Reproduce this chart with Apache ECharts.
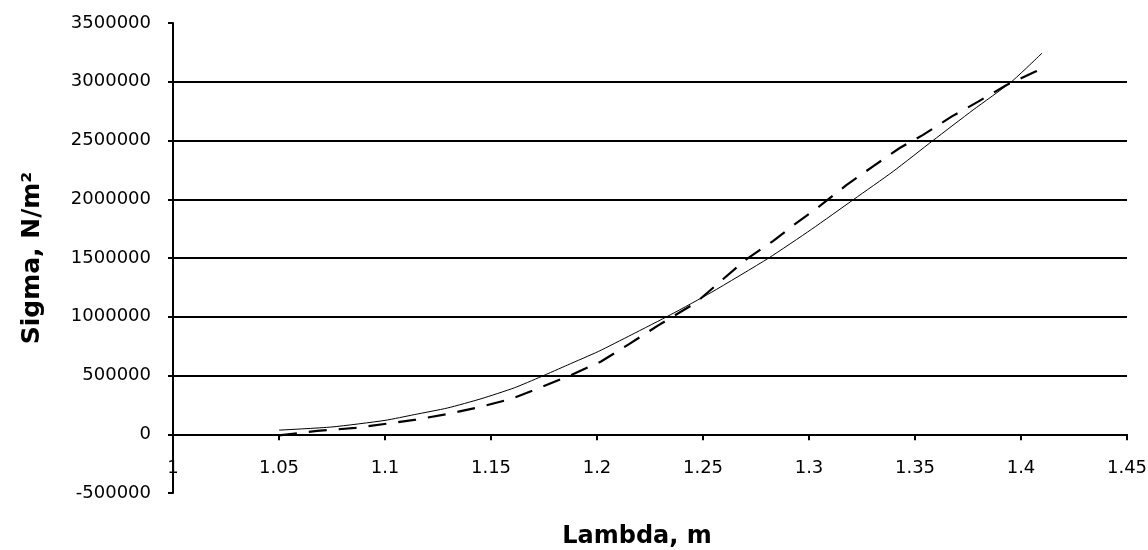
<!DOCTYPE html>
<html>
<head>
<meta charset="utf-8">
<script src="https://cdn.jsdelivr.net/npm/echarts@6/dist/echarts.min.js"></script>
<style>
html,body{margin:0;padding:0;background:#fff;}
#chart{width:1148px;height:550px;}
</style>
</head>
<body>
<div id="chart"></div>
<script>
// Solid curve (model)
const lambdaSolid = [1.05, 1.075, 1.1, 1.1138, 1.1296, 1.1453, 1.161, 1.1736, 1.1862, 1.2007, 1.2161, 1.235, 1.2539, 1.281, 1.3011, 1.3212, 1.3397, 1.3585, 1.3774, 1.3955, 1.41];
const sigmaSolid  = [35000, 62000, 118000, 167000, 224000, 302000, 395000, 490000, 590000, 705000, 845000, 1020000, 1207000, 1500000, 1743000, 2000000, 2237000, 2500000, 2760000, 3000000, 3245000];
// Dashed curve (data)
const lambdaDashed = [1.05, 1.068, 1.086, 1.1013, 1.1146, 1.1303, 1.1448, 1.1598, 1.1739, 1.1881, 1.2019, 1.2153, 1.2287, 1.2468, 1.2594, 1.2704, 1.283, 1.2932, 1.305, 1.3176, 1.3302, 1.3428, 1.3538, 1.3672, 1.3798, 1.3932, 1.4066, 1.41];
const sigmaDashed  = [-10000, 28000, 54000, 91000, 125000, 175000, 232000, 302000, 402000, 506000, 619000, 769000, 924000, 1122000, 1319000, 1489000, 1644000, 1786000, 1941000, 2120000, 2280000, 2436000, 2548000, 2703000, 2831000, 2972000, 3085000, 3110000];
// Tick labels
const xTickValues = [1, 1.05, 1.1, 1.15, 1.2, 1.25, 1.3, 1.35, 1.4, 1.45];
const xTickLabels = ['1', '1.05', '1.1', '1.15', '1.2', '1.25', '1.3', '1.35', '1.4', '1.45'];
const yTickValues = [-500000, 0, 500000, 1000000, 1500000, 2000000, 2500000, 3000000, 3500000];
const yTickLabels = ['-500000', '0', '500000', '1000000', '1500000', '2000000', '2500000', '3000000', '3500000'];
const xTitle = 'Lambda, m';
const yTitle = 'Sigma, N/m\u00B2';

function pick(values, labels, v) {
  for (let i = 0; i < values.length; i++) {
    if (Math.abs(values[i] - v) < 1e-6 * Math.max(1, Math.abs(v))) return labels[i];
  }
  return '';
}
function zip(a, b) { return a.map((x, i) => [x, b[i]]); }

const chart = echarts.init(document.getElementById('chart'), null, {renderer: 'canvas'});
const tickFont = {fontFamily: 'DejaVu Sans', fontSize: 18, color: '#000'};
chart.setOption({
  animation: false,
  backgroundColor: '#fff',
  grid: {left: 173, right: 21, top: 23, bottom: 57, containLabel: false, outerBoundsMode: 'none'},
  xAxis: {
    type: 'value', min: 1, max: 1.45, interval: 0.05,
    name: xTitle, nameLocation: 'middle', nameGap: 32,
    nameTextStyle: {fontFamily: 'DejaVu Sans', fontWeight: 'bold', fontSize: 24, color: '#000', padding: [0, 26, 0, 0]},
    axisLine: {onZero: true, lineStyle: {color: '#000', width: 2}},
    axisTick: {show: true, inside: false, length: 6, lineStyle: {color: '#000', width: 2}},
    axisLabel: Object.assign({margin: -34, formatter: v => pick(xTickValues, xTickLabels, v)}, tickFont),
    splitLine: {show: false}
  },
  yAxis: {
    type: 'value', min: -500000, max: 3500000, interval: 500000,
    name: yTitle, nameLocation: 'middle', nameGap: 128, nameRotate: 90,
    nameTextStyle: {fontFamily: 'DejaVu Sans', fontWeight: 'bold', fontSize: 25, color: '#000'},
    axisLine: {show: true, onZero: false, lineStyle: {color: '#000', width: 2}},
    axisTick: {show: true, inside: false, length: 5, lineStyle: {color: '#000', width: 2}},
    axisLabel: Object.assign({margin: 22, formatter: v => pick(yTickValues, yTickLabels, v)}, tickFont),
    splitLine: {show: true, showMinLine: false, showMaxLine: false, lineStyle: {color: '#000', width: 2}}
  },
  series: [
    {
      type: 'line', data: zip(lambdaSolid, sigmaSolid), smooth: 0.2,
      showSymbol: false, symbol: 'none',
      lineStyle: {color: '#000', width: 1, type: 'solid'}, z: 3
    },
    {
      type: 'line', data: zip(lambdaDashed, sigmaDashed), smooth: false,
      showSymbol: false, symbol: 'none',
      lineStyle: {color: '#000', width: 2.2, type: [18, 12]}, z: 4
    }
  ]
});
</script>
</body>
</html>
